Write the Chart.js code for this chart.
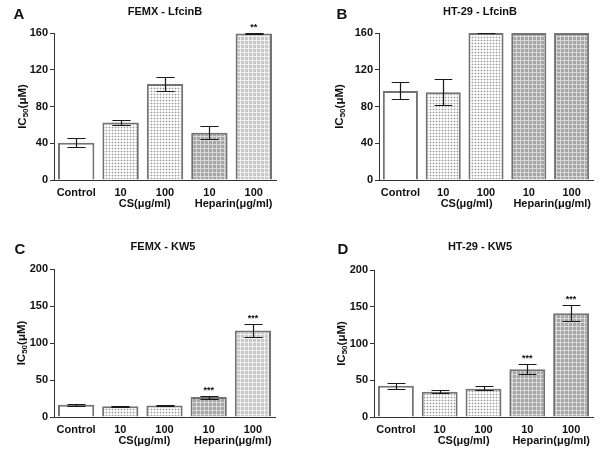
<!DOCTYPE html>
<html>
<head>
<meta charset="utf-8">
<script src="https://cdn.jsdelivr.net/npm/chart.js@4/dist/chart.umd.min.js"></script>
<style>
body { margin: 0; background: #fff; }
#wrap { position: relative; width: 600px; height: 467px; }
#wrap canvas { position: absolute; }
</style>
</head>
<body>
<div id="wrap">
  <canvas id="chartA" width="300" height="234" style="left:0;top:0"></canvas>
  <canvas id="chartB" width="300" height="234" style="left:300px;top:0"></canvas>
  <canvas id="chartC" width="300" height="233" style="left:0;top:234px"></canvas>
  <canvas id="chartD" width="300" height="233" style="left:300px;top:234px"></canvas>
</div>
<script>
// categories shared by all four panels
const categories = ['Control', '10', '100', '10', '100'];
const groupNames = ['CS(μg/ml)', 'Heparin(μg/ml)'];
const groupStart = [1, 3]; // first bar of each group

// A: FEMX - LfcinB
const femxLfcinB = [40.5, 62.5, 104.5, 51.5, 159.5];
const femxLfcinBLow = [35.5, 60, 97, 45, 159];
const femxLfcinBHigh = [45.5, 65, 112.5, 58.5, 160];
const femxLfcinBStars = ['', '', '', '', '**'];

// B: HT-29 - LfcinB
const htLfcinB = [97, 95.5, 160, 160, 160];
const htLfcinBLow = [88, 81.5, 160, null, null];
const htLfcinBHigh = [106.5, 110, 160, null, null];
const htLfcinBStars = ['', '', '', '', ''];

// C: FEMX - KW5
const femxKW5 = [16.5, 14.5, 15.5, 27, 117];
const femxKW5Low = [15.5, 13.8, 14.8, 25, 108.5];
const femxKW5High = [17, 15, 16.2, 29, 125.5];
const femxKW5Stars = ['', '', '', '***', '***'];

// D: HT-29 - KW5
const htKW5 = [42.5, 34.5, 38.5, 65, 141];
const htKW5Low = [38.5, 33, 36.5, 58.5, 130];
const htKW5High = [46.5, 36.5, 41.5, 71.5, 152];
const htKW5Stars = ['', '', '', '***', '***'];

const textColor = '#111';
const axisColor = '#333';
const fontFamily = '"Liberation Sans", Arial, sans-serif';

function makePattern(size, bg, draw) {
    const c = document.createElement('canvas');
    c.width = size;
    c.height = size;
    const g = c.getContext('2d');
    g.fillStyle = bg;
    g.fillRect(0, 0, size, size);
    draw(g);
    return g.createPattern(c, 'repeat');
}

const dots = makePattern(3, '#fdfdfd', (g) => {
    g.fillStyle = '#e0e0e0';
    g.fillRect(0, 1, 3, 1);
    g.fillRect(1, 0, 1, 3);
    g.fillStyle = '#9a9a9a';
    g.fillRect(1, 1, 1, 1);
});
const gridDark = makePattern(4, '#a6a6a6', (g) => {
    g.fillStyle = '#dadada';
    g.fillRect(0, 0, 4, 1);
    g.fillRect(0, 0, 1, 4);
});
const gridLight = makePattern(4, '#c8c8c8', (g) => {
    g.fillStyle = '#f0f0f0';
    g.fillRect(0, 0, 4, 1);
    g.fillRect(0, 0, 1, 4);
});

function makePanel(id, p) {
    const canvas = document.getElementById(id);
    const H = canvas.height;

    const extras = {
        id: 'extras_' + id,
        afterDatasetsDraw(chart) {
            const ctx = chart.ctx;
            const y = chart.scales.y;
            const bars = chart.getDatasetMeta(0).data;
            ctx.save();
            ctx.strokeStyle = '#1a1a1a';
            ctx.lineWidth = 1.2;
            ctx.fillStyle = textColor;
            ctx.textAlign = 'center';
            ctx.textBaseline = 'alphabetic';
            ctx.font = 'bold 9px ' + fontFamily;
            bars.forEach((bar, i) => {
                let top = y.getPixelForValue(p.values[i]);
                if (p.low[i] != null) {
                    const x = Math.round(bar.x) + 0.5;
                    const half = bar.width / 4;
                    const yLo = Math.round(y.getPixelForValue(p.low[i])) + 0.5;
                    const yHi = Math.round(y.getPixelForValue(p.high[i])) + 0.5;
                    ctx.beginPath();
                    ctx.moveTo(x, yLo);
                    ctx.lineTo(x, yHi);
                    ctx.moveTo(x - half, yLo);
                    ctx.lineTo(x + half, yLo);
                    ctx.moveTo(x - half, yHi);
                    ctx.lineTo(x + half, yHi);
                    ctx.stroke();
                    top = yHi;
                }
                if (p.stars[i]) {
                    ctx.fillText(p.stars[i], bar.x, top - 4);
                }
            });
            ctx.restore();
        },
        afterDraw(chart) {
            const ctx = chart.ctx;
            const area = chart.chartArea;
            const xs = chart.scales.x;
            ctx.save();
            ctx.fillStyle = textColor;
            ctx.textAlign = 'center';
            ctx.textBaseline = 'middle';

            // group labels under the tick labels
            ctx.font = 'bold 11px ' + fontFamily;
            groupNames.forEach((name, g) => {
                const i = groupStart[g];
                const gx = (xs.getPixelForValue(i) + xs.getPixelForValue(i + 1)) / 2 + 2;
                ctx.fillText(name, gx, area.bottom + 24);
            });

            // panel title and letter
            ctx.font = 'bold 11px ' + fontFamily;
            ctx.fillText(p.title, p.titleX, p.titleY);
            ctx.font = 'bold 15px ' + fontFamily;
            ctx.fillText(p.letter, p.letterX, p.titleY + 3);

            // rotated y label with subscript
            const cy = (area.top + area.bottom) / 2;
            ctx.translate(p.labelX, cy);
            ctx.rotate(-Math.PI / 2);
            ctx.textAlign = 'left';
            const big = 'bold 11.5px ' + fontFamily;
            const small = 'bold 8px ' + fontFamily;
            ctx.font = big;
            const w1 = ctx.measureText('IC').width;
            const w3 = ctx.measureText('(μM)').width;
            ctx.font = small;
            const w2 = ctx.measureText('50').width;
            const x0 = -(w1 + w2 + w3) / 2;
            ctx.font = big;
            ctx.fillText('IC', x0, 0);
            ctx.font = small;
            ctx.fillText('50', x0 + w1, 3);
            ctx.font = big;
            ctx.fillText('(μM)', x0 + w1 + w2, 0);
            ctx.restore();
        }
    };

    return new Chart(canvas.getContext('2d'), {
        type: 'bar',
        data: {
            labels: categories,
            datasets: [{
                data: p.values,
                backgroundColor: p.fills,
                borderColor: '#737373',
                borderWidth: 2,
                barPercentage: 0.82,
                categoryPercentage: 1
            }]
        },
        options: {
            responsive: false,
            animation: false,
            devicePixelRatio: 1,
            layout: {
                padding: { left: 0, right: 300 - p.area.right, top: p.area.top, bottom: 0 }
            },
            plugins: {
                legend: { display: false },
                tooltip: { enabled: false },
                title: { display: false }
            },
            scales: {
                x: {
                    offset: true,
                    grid: { display: false, drawTicks: false },
                    border: { color: axisColor, width: 1 },
                    ticks: {
                        color: textColor,
                        font: { size: 11, weight: 'bold', family: fontFamily },
                        padding: 6,
                        maxRotation: 0,
                        autoSkip: false
                    },
                    afterFit: (s) => { s.height = H - p.area.bottom; }
                },
                y: {
                    min: 0,
                    max: p.yMax,
                    grid: { drawOnChartArea: false, drawTicks: true, tickLength: 4, color: axisColor },
                    border: { color: axisColor, width: 1 },
                    ticks: {
                        stepSize: p.yStep,
                        color: textColor,
                        font: { size: 11, weight: 'bold', family: fontFamily },
                        padding: 2
                    },
                    afterFit: (s) => { s.width = p.area.left; }
                }
            }
        },
        plugins: [extras]
    });
}

makePanel('chartA', {
    letter: 'A', title: 'FEMX - LfcinB',
    values: femxLfcinB, low: femxLfcinBLow, high: femxLfcinBHigh, stars: femxLfcinBStars,
    fills: ['#fff', dots, dots, gridDark, gridLight],
    yMax: 160, yStep: 40,
    area: { left: 54, right: 276, top: 33, bottom: 180 },
    titleX: 165, titleY: 12, letterX: 19, labelX: 23
});
makePanel('chartB', {
    letter: 'B', title: 'HT-29 - LfcinB',
    values: htLfcinB, low: htLfcinBLow, high: htLfcinBHigh, stars: htLfcinBStars,
    fills: ['#fff', dots, dots, gridDark, gridDark],
    yMax: 160, yStep: 40,
    area: { left: 79, right: 293, top: 33, bottom: 180 },
    titleX: 180, titleY: 12, letterX: 42, labelX: 40
});
makePanel('chartC', {
    letter: 'C', title: 'FEMX - KW5',
    values: femxKW5, low: femxKW5Low, high: femxKW5High, stars: femxKW5Stars,
    fills: ['#fff', dots, dots, gridDark, gridLight],
    yMax: 200, yStep: 50,
    area: { left: 54, right: 275, top: 35, bottom: 183 },
    titleX: 163, titleY: 13, letterX: 20, labelX: 22
});
makePanel('chartD', {
    letter: 'D', title: 'HT-29 - KW5',
    values: htKW5, low: htKW5Low, high: htKW5High, stars: htKW5Stars,
    fills: ['#fff', dots, dots, gridDark, gridDark],
    yMax: 200, yStep: 50,
    area: { left: 74, right: 293, top: 36, bottom: 183 },
    titleX: 180, titleY: 13, letterX: 43, labelX: 42
});
</script>
</body>
</html>
